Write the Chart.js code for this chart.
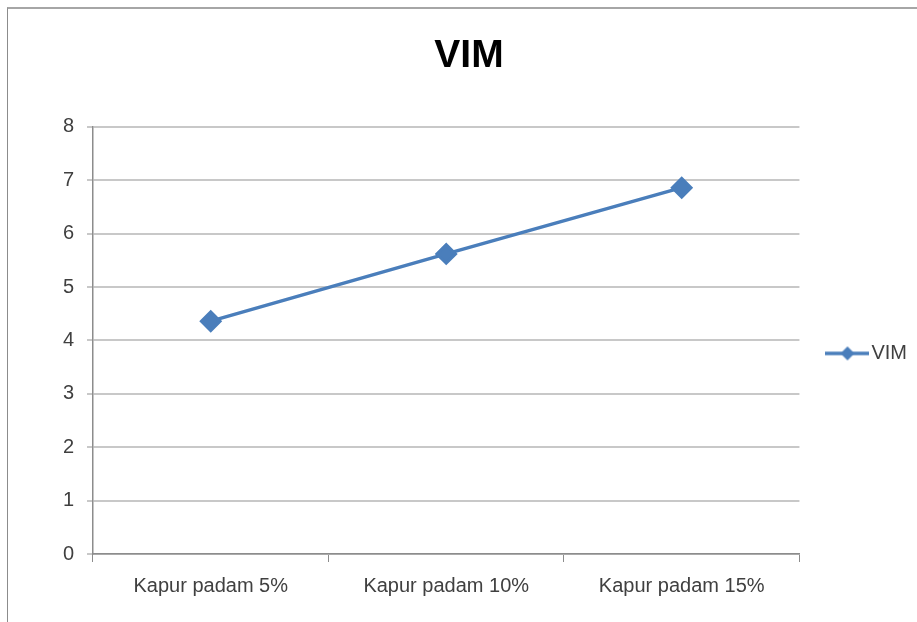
<!DOCTYPE html>
<html>
<head>
<meta charset="utf-8">
<script src="https://cdn.jsdelivr.net/npm/chart.js@4"></script>
<style>
	html, body { margin: 0; padding: 0; background: #fff; }
	#wrap { position: relative; width: 917px; height: 622px; }
	#frame {
		position: absolute; left: 7px; top: 7px; width: 930px; height: 640px;
		border-top: 2px solid #a6a6a6; border-left: 1px solid #8c8c8c;
		pointer-events: none;
	}
</style>
</head>
<body>
<div id="wrap">
	<canvas id="vimChart" width="917" height="622"></canvas>
	<div id="frame"></div>
</div>
<script>
// Chart data
const categories = ['Kapur padam 5%', 'Kapur padam 10%', 'Kapur padam 15%'];
const vimValues = [4.36, 5.62, 6.86];
const seriesName = 'VIM';

const blue = '#4a7ebb';
const font = "'Liberation Sans', Arial, sans-serif";

// Legend symbol: short line with a diamond in the middle
function legendSymbol() {
	let c = document.createElement('canvas');
	c.width = 44;
	c.height = 18;
	let ctx = c.getContext('2d');
	ctx.strokeStyle = blue;
	ctx.lineWidth = 3.5;
	ctx.beginPath();
	ctx.moveTo(0, 9);
	ctx.lineTo(44, 9);
	ctx.stroke();
	ctx.fillStyle = blue;
	ctx.beginPath();
	ctx.moveTo(22, 2);
	ctx.lineTo(29, 9);
	ctx.lineTo(22, 16);
	ctx.lineTo(15, 9);
	ctx.closePath();
	ctx.fill();
	return c;
}

window.onload = () => {
	let context = document.querySelector('#vimChart');

	new Chart(context, {
		type: 'line',
		data: {
			labels: categories,
			datasets: [{
				label: seriesName,
				data: vimValues,
				borderColor: blue,
				backgroundColor: blue,
				borderWidth: 3.5,
				pointStyle: 'rectRot',
				pointRadius: 9,
				pointHoverRadius: 9,
				tension: 0,
			}]
		},
		options: {
			responsive: false,
			animation: false,
			layout: { padding: { left: 21, right: 0, top: 18, bottom: 12 } },
			plugins: {
				title: {
					display: true,
					text: 'VIM',
					color: '#000',
					font: { family: font, size: 39, weight: 'bold' },
					padding: { top: 15, bottom: 47 },
				},
				legend: {
					position: 'right',
					fullSize: false,
					title: { display: true, text: '', font: { size: 10 }, padding: 7 },
					labels: {
						usePointStyle: true,
						pointStyle: legendSymbol(),
						pointStyleWidth: 28,
						color: '#404040',
						font: { family: font, size: 20 },
						padding: 13,
					}
				},
				tooltip: { enabled: false },
			},
			scales: {
				x: {
					offset: true,
					grid: {
						offset: true,
						drawOnChartArea: false,
						drawTicks: true,
						tickLength: 8,
						color: '#8c8c8c',
					},
					border: { color: '#8c8c8c', width: 1.5 },
					ticks: {
						color: '#404040',
						font: { family: font, size: 20 },
						padding: 12,
						maxRotation: 0,
					},
				},
				y: {
					min: 0,
					max: 8,
					afterFit: (scale) => { scale.width = 72; },
					ticks: {
						stepSize: 1,
						color: '#404040',
						font: { family: font, size: 20 },
						padding: 13,
					},
					grid: {
						color: '#c8c8c8',
						lineWidth: 2,
						tickLength: 6,
					},
					border: { color: '#8c8c8c', width: 1.5 },
				},
				// empty spacer between plot and legend
				gap: {
					position: 'right',
					display: true,
					afterFit: (scale) => { scale.width = 21; },
					grid: { display: false },
					border: { display: false },
					ticks: { display: false },
				},
			},
		}
	});
};
</script>
</body>
</html>
